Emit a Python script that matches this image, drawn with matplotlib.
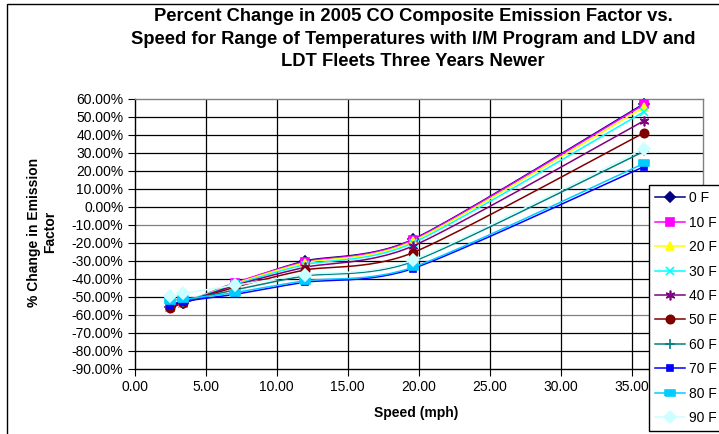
import numpy as np
import matplotlib
matplotlib.use("Agg")
import matplotlib.pyplot as plt
from matplotlib.lines import Line2D
from matplotlib.patches import Rectangle
from matplotlib.ticker import FuncFormatter

plt.rcParams['font.family'] = ['Liberation Sans', 'DejaVu Sans']

# ---------------- data ----------------
speeds = [2.5, 3.4, 7.1, 12.0, 19.6, 35.9]
labels = ["0 F", "10 F", "20 F", "30 F", "40 F", "50 F", "60 F", "70 F", "80 F", "90 F"]
t0 = [-55.5, -53.5, -42.5, -30.0, -18.0, 57.5]
t10 = [-55.5, -53.5, -42.0, -30.4, -18.3, 57.0]
t20 = [-55.5, -53.3, -42.5, -31.0, -19.0, 55.5]
t30 = [-55.3, -53.0, -43.0, -32.0, -20.0, 53.0]
t40 = [-55.5, -53.3, -43.5, -33.5, -21.7, 48.0]
t50 = [-56.0, -53.5, -44.5, -35.0, -25.4, 41.3]
t60 = [-54.5, -52.5, -46.0, -38.3, -30.3, 31.0]
t70 = [-55.0, -52.5, -48.5, -41.8, -34.2, 22.5]
t80 = [-52.0, -51.3, -47.5, -41.0, -33.5, 24.3]
t90 = [-49.5, -48.0, -43.5, -37.5, -29.5, 32.5]
series = [t0, t10, t20, t30, t40, t50, t60, t70, t80, t90]

colors = ["#000080", "#FF00FF", "#FFFF00", "#00FFFF", "#800080",
          "#800000", "#008080", "#0000FF", "#00CCFF", "#CCFFFF"]
rect = [(-1, -0.55), (1, -0.55), (1, 0.55), (-1, 0.55), (-1, -0.55)]
markers = ["D", "s", "^", "x", (6, 2, 0), "o", "+", "s", rect, "D"]
msizes = [5, 6, 6, 6, 7, 6, 7, 4, 7, 6]

x_ticks = [0, 5, 10, 15, 20, 25, 30, 35]
y_ticks = list(range(-90, 61, 10))


def smooth(xs, ys, n=30, k=8.0):
    pts = np.column_stack([xs, ys]).astype(float)
    out = [pts[0]]
    for i in range(len(pts) - 1):
        p0 = pts[i - 1] if i > 0 else pts[i]
        p1 = pts[i]
        p2 = pts[i + 1]
        p3 = pts[i + 2] if i + 2 < len(pts) else pts[i + 1]
        c1 = p1 + (p2 - p0) / k
        c2 = p2 - (p3 - p1) / k
        t = np.linspace(0, 1, n)[1:, None]
        seg = ((1 - t) ** 3) * p1 + 3 * ((1 - t) ** 2) * t * c1 + 3 * (1 - t) * t ** 2 * c2 + t ** 3 * p2
        out.extend(seg)
    return np.array(out)


W, H = 719, 434
fig = plt.figure(figsize=(W / 100, H / 100), dpi=100)
ax = fig.add_axes([134.5 / W, 1 - 369 / H, 568 / W, 270 / H])

ax.set_xlim(0, 40)
ax.set_ylim(-90, 60)
ax.set_xticks(x_ticks)
ax.set_yticks(y_ticks)
ax.xaxis.set_major_formatter(FuncFormatter(lambda v, p: f"{v:.2f}"))
ax.yaxis.set_major_formatter(FuncFormatter(lambda v, p: f"{v:.2f}%"))
ax.tick_params(axis='both', labelsize=10, length=5, width=0.8, direction='out', pad=3, color='black')

# gridlines
for yv in y_ticks[1:-1]:
    col = '#808080' if yv in (-10, -60) else 'black'
    ax.axhline(yv, color=col, lw=0.9, zorder=1)
for xv in x_ticks[1:]:
    ax.axvline(xv, color='black', lw=0.9, zorder=1)
for s in ['top', 'right']:
    ax.spines[s].set_color('#808080')
for s in ['left', 'bottom']:
    ax.spines[s].set_color('black')
for s in ax.spines.values():
    s.set_linewidth(1.0)

handles = []
for ys, c, m, ms, lab in zip(series, colors, markers, msizes, labels):
    sm = smooth(speeds, ys)
    ax.plot(sm[:, 0], sm[:, 1], color=c, lw=1.1, zorder=3, solid_capstyle='round')
    ax.plot(speeds, ys, linestyle='none', marker=m, markersize=ms, color=c,
            markeredgecolor=c, markeredgewidth=1.2, zorder=4, clip_on=False)
    handles.append(Line2D([0], [0], color=c, lw=1.1, marker=m, markersize=ms,
                          markeredgecolor=c, markeredgewidth=1.2, label=lab))

title = ("Percent Change in 2005 CO Composite Emission Factor vs.\n"
         "Speed for Range of Temperatures with I/M Program and LDV and\n"
         "LDT Fleets Three Years Newer")
fig.text(413 / W, 1 - 39 / H, title, ha='center', va='center', fontsize=13.2,
         fontweight='bold', linespacing=1.42)
fig.text(42 / W, 1 - 232 / H, "% Change in Emission\nFactor", rotation=90,
         ha='center', va='center', fontsize=10, fontweight='bold',
         multialignment='center', linespacing=1.2)
fig.text(416 / W, 1 - 413 / H, "Speed (mph)", ha='center', va='center',
         fontsize=10, fontweight='bold')

# outer chart border
fig.patches.append(Rectangle((7 / W, -0.2), 1.2, 1.2 - 4 / H, transform=fig.transFigure,
                             fill=False, edgecolor='black', lw=1.0))

leg = fig.legend(handles=handles, loc='upper left',
                 bbox_to_anchor=(649 / W, 1 - 185 / H), fontsize=10,
                 handlelength=2.15, handletextpad=0.3, labelspacing=0.75,
                 borderpad=0.45, borderaxespad=0, fancybox=False, frameon=True)
leg.get_frame().set_edgecolor('black')
leg.get_frame().set_linewidth(1.0)
leg.get_frame().set_alpha(1)

fig.savefig("out.png", dpi=100)
